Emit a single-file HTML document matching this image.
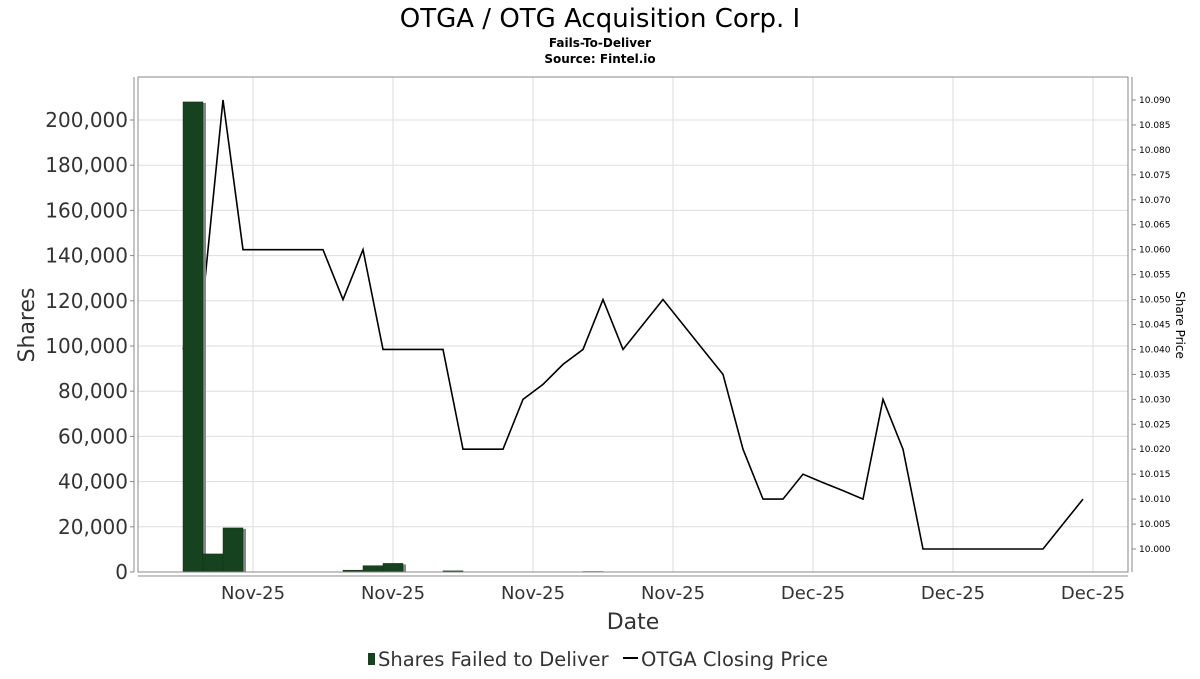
<!DOCTYPE html>
<html><head><meta charset="utf-8"><style>
body{margin:0;background:#fff;font-family:"DejaVu Sans","Liberation Sans",sans-serif;}
svg text{font-family:"DejaVu Sans","Liberation Sans",sans-serif;}
</style></head><body>
<svg id="chart" width="1200" height="675" xmlns="http://www.w3.org/2000/svg">
<text x="600" y="27" text-anchor="middle" font-size="26">OTGA / OTG Acquisition Corp. I</text>
<text x="600" y="47" text-anchor="middle" font-size="12" font-weight="bold">Fails-To-Deliver</text>
<text x="600" y="63" text-anchor="middle" font-size="12" font-weight="bold">Source: Fintel.io</text>
<g id="grid"></g>
<g id="line"></g>
<g id="bars"></g>
<rect x="138" y="77" width="990" height="495" fill="none" stroke="#888"/>
<line x1="138" y1="576" x2="1128" y2="576" stroke="#888"/>
<line x1="134" y1="77" x2="134" y2="572" stroke="#888"/>
<line x1="1132" y1="77" x2="1132" y2="572" stroke="#888"/>
<g id="axes"></g>
<text transform="translate(34,325) rotate(-90)" text-anchor="middle" font-size="22" fill="#333">Shares</text>
<text transform="translate(1176,325) rotate(90)" text-anchor="middle" font-size="12">Share Price</text>
<text x="633" y="629" text-anchor="middle" font-size="22" fill="#333">Date</text>
<g>
<rect x="368" y="653" width="7" height="12" fill="#17421f"/>
<text x="378" y="666" font-size="19.5" fill="#333">Shares Failed to Deliver</text>
<line x1="623" y1="658" x2="638" y2="658" stroke="#000" stroke-width="2"/>
<text x="641" y="666" font-size="19.5" fill="#333">OTGA Closing Price</text>
</g>
</svg>
<script>
const shares=[208000,8000,19500,0,0,0,0,0,800,2800,3800,0,0,500,0,0,0,0,0,0,200];
const prices=[10.040,10.050,10.090,10.060,10.060,10.060,10.060,10.060,10.050,10.060,10.040,10.040,10.040,10.040,10.020,10.020,10.020,10.030,10.033,10.037,10.040,10.050,10.040,10.045,10.050,10.045,10.040,10.035,10.020,10.010,10.010,10.015,10.0133,10.0117,10.010,10.030,10.020,10.000,10.000,10.000,10.000,10.000,10.000,10.000,10.005,10.010];
const yTicks=[0,20000,40000,60000,80000,100000,120000,140000,160000,180000,200000];
const y2Ticks=[10.000,10.005,10.010,10.015,10.020,10.025,10.030,10.035,10.040,10.045,10.050,10.055,10.060,10.065,10.070,10.075,10.080,10.085,10.090];
const xLabels=["Nov-25","Nov-25","Nov-25","Nov-25","Dec-25","Dec-25","Dec-25"];
const NS="http://www.w3.org/2000/svg";
const xDay=i=>183+20*i;
const yS=v=>572-v*(452/200000);
const yP=v=>549-(v-10)*(449/0.09);
const xTick=i=>253+140*i;
function mk(t,a,p){const e=document.createElementNS(NS,t);for(const k in a)e.setAttribute(k,a[k]);p.appendChild(e);return e;}
const grid=document.getElementById('grid'),axes=document.getElementById('axes'),bars=document.getElementById('bars'),line=document.getElementById('line');
yTicks.forEach(v=>{const y=yS(v);
 const g=mk('line',{x1:138,x2:1128,y1:y,y2:y,stroke:'#ddd'},grid);
 
 
 mk('line',{x1:130,x2:134,y1:y,y2:y,stroke:'#888'},axes);
 const t=mk('text',{x:128,y:y+7,'text-anchor':'end','font-size':20,fill:'#333'},axes);
 
 
 t.textContent=v.toLocaleString('en-US');});
y2Ticks.forEach(v=>{const y=yP(v);
 mk('line',{x1:1132,x2:1136,y1:y,y2:y,stroke:'#888'},axes);
 const t=mk('text',{x:1139,y:y+3,'font-size':9},axes);
 
 
 t.textContent=v.toFixed(3);});
xLabels.forEach((s,i)=>{const x=xTick(i);
 const g=mk('line',{x1:x,x2:x,y1:77,y2:572,stroke:'#ddd'},grid);
 
 
 const t=mk('text',{x:x,y:599,'text-anchor':'middle','font-size':18,fill:'#333'},axes);
 
 
 t.textContent=s;});
shares.forEach((v,i)=>{if(v<=0)return;const x=xDay(i),y=yS(v);
 mk('rect',{x:x+3,y:y+1,width:20,height:572-y-1,fill:'#888'},bars);
 const b=mk('rect',{x:x,y:y,width:20,height:572-y,fill:'#17421f',stroke:'#123318','stroke-width':0.5},bars);
 
 });
const pl=mk('polyline',{points:prices.map((v,i)=>xDay(i)+','+yP(v)).join(' '),fill:'none',stroke:'#000','stroke-width':1.6},line);


</script>
</body></html>
